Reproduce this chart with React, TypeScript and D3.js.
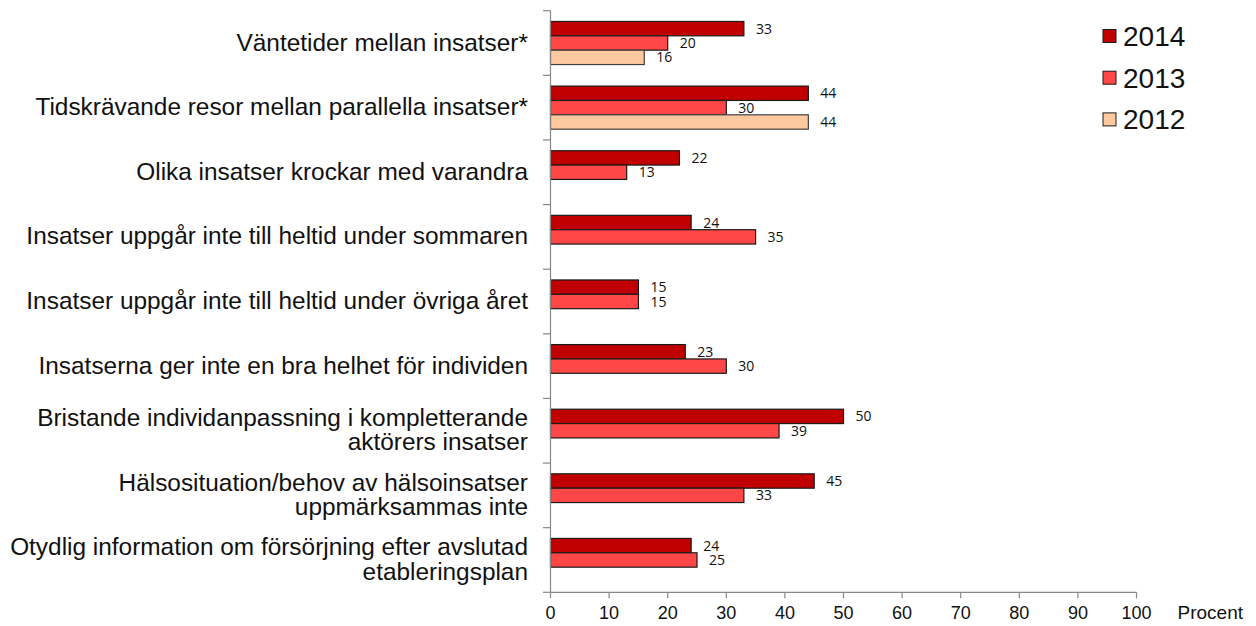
import React from "react";
import * as d3 from "d3";

const categories: string[] = [
  "Väntetider mellan insatser*",
  "Tidskrävande resor mellan parallella insatser*",
  "Olika insatser krockar med varandra",
  "Insatser uppgår inte till heltid under sommaren",
  "Insatser uppgår inte till heltid under övriga året",
  "Insatserna ger inte en bra helhet för individen",
  "Bristande individanpassning i kompletterande\naktörers insatser",
  "Hälsosituation/behov av hälsoinsatser\nuppmärksammas inte",
  "Otydlig information om försörjning efter avslutad\netableringsplan",
];

const seriesNames: string[] = ["2014", "2013", "2012"];
const values2014: (number | null)[] = [33, 44, 22, 24, 15, 23, 50, 45, 24];
const values2013: (number | null)[] = [20, 30, 13, 35, 15, 30, 39, 33, 25];
const values2012: (number | null)[] = [16, 44, null, null, null, null, null, null, null];
const xTicks: number[] = [0, 10, 20, 30, 40, 50, 60, 70, 80, 90, 100];
const axisTitle = "Procent";

const seriesValues = [values2014, values2013, values2012];
const fills = ["#C00000", "#FF4747", "#FFC9A0"];
const strokes = ["#1a1a1a", "#1a1a1a", "#404040"];

export default function App() {
  const W = 1256;
  const H = 626;
  const x = d3.scaleLinear().domain([0, 100]).range([550.5, 1136.5]);
  const y0 = d3.scaleBand<string>().domain(categories).range([10.7, 592.3]).padding(0);
  const y1 = d3
    .scaleBand<string>()
    .domain(seriesNames)
    .range([0, y0.step()])
    .paddingInner(0)
    .paddingOuter(0.75);
  const axisX = x(0);
  const axisY = 592.3;
  const boundaries = categories.map((c) => y0(c) as number).concat([axisY]);
  const axisColor = "#878787";

  return (
    <svg
      width={W}
      height={H}
      style={{ position: "absolute", left: 0, top: 0, background: "#fff" }}
      fontFamily="'Liberation Sans', Arial, sans-serif"
    >
      <rect x={0} y={0} width={W} height={H} fill="#fff" />
      {/* bars */}
      {categories.map((c, ci) => (
        <g key={c}>
          {seriesNames.map((s, si) => {
            const v = seriesValues[si][ci];
            if (v === null || v === undefined) return null;
            const by = (y0(c) as number) + (y1(s) as number);
            const bh = y1.bandwidth();
            return (
              <g key={s}>
                <rect
                  x={axisX}
                  y={by}
                  width={x(v) - axisX}
                  height={bh}
                  fill={fills[si]}
                  stroke={strokes[si]}
                  strokeWidth={1.2}
                />
                <text
                  x={x(v) + 12}
                  y={by + bh / 2}
                  dy="0.36em"
                  fontFamily="'Open Sans', sans-serif"
                  fontSize={14}
                  fill="#111"
                >
                  {v}
                </text>
              </g>
            );
          })}
        </g>
      ))}
      {/* y axis */}
      <line x1={axisX} x2={axisX} y1={10.7} y2={axisY} stroke={axisColor} strokeWidth={1.2} />
      {boundaries.map((b, i) => (
        <line key={i} x1={axisX - 7.5} x2={axisX} y1={b} y2={b} stroke={axisColor} strokeWidth={1.2} />
      ))}
      {/* x axis */}
      <line x1={axisX} x2={x(100)} y1={axisY} y2={axisY} stroke={axisColor} strokeWidth={1.2} />
      {xTicks.map((t) => (
        <g key={t}>
          <line x1={x(t)} x2={x(t)} y1={axisY} y2={axisY + 6} stroke={axisColor} strokeWidth={1.2} />
          <text x={x(t)} y={619} textAnchor="middle" fontSize={18} fill="#111">
            {t}
          </text>
        </g>
      ))}
      <text x={1177.5} y={619} fontSize={19} fill="#111">
        {axisTitle}
      </text>
      {/* category labels */}
      {categories.map((c) => {
        const lines = c.split("\n");
        const cy = (y0(c) as number) + y0.bandwidth() / 2;
        const lh = 24.5;
        const base = cy + 7.5 - ((lines.length - 1) * lh) / 2;
        return (
          <text key={c} textAnchor="end" fontSize={24.4} fill="#111">
            {lines.map((l, i) => (
              <tspan key={i} x={528} y={base + i * lh}>
                {l}
              </tspan>
            ))}
          </text>
        );
      })}
      {/* legend */}
      {seriesNames.map((s, i) => {
        const cy = 36 + i * 41.7;
        return (
          <g key={s}>
            <rect x={1103} y={cy - 6.5} width={13} height={13} fill={fills[i]} stroke="#1a1a1a" strokeWidth={1} />
            <text x={1123} y={cy + 10} fontSize={28} fill="#111">
              {s}
            </text>
          </g>
        );
      })}
    </svg>
  );
}
